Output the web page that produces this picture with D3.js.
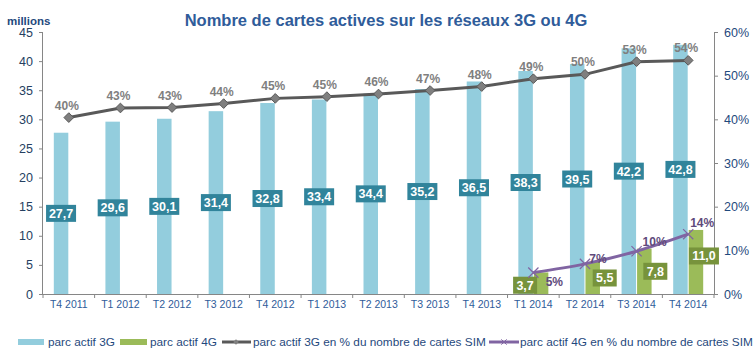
<!DOCTYPE html>
<html><head><meta charset="utf-8">
<script src="https://cdn.jsdelivr.net/npm/d3@7"></script>
<style>body{margin:0;background:#fff}svg{display:block;font-family:"Liberation Sans",Arial,sans-serif}</style>
</head><body><svg id="c" width="756" height="359"></svg>
<script>
const categories = ["T4 2011","T1 2012","T2 2012","T3 2012","T4 2012","T1 2013","T2 2013","T3 2013","T4 2013","T1 2014","T2 2014","T3 2014","T4 2014"];
const parc3G = [27.7,29.6,30.1,31.4,32.8,33.4,34.4,35.2,36.5,38.3,39.5,42.2,42.8];
const parc4G = [null,null,null,null,null,null,null,null,null,3.7,5.5,7.8,11.0];
const pct3G = [40.4,42.6,42.7,43.6,44.8,45.2,45.8,46.6,47.5,49.3,50.3,53.2,53.5];
const pct4G = [null,null,null,null,null,null,null,null,null,4.9,6.9,9.8,13.7];
const leftTicks = [0,5,10,15,20,25,30,35,40,45];
const rightTicks = [0,10,20,30,40,50,60];

const svg = d3.select("#c");
const m = {l:43, r:714, t:32, b:294};
const x = d3.scaleBand().domain(categories).range([m.l, m.r]);
const yL = d3.scaleLinear().domain([0,45]).range([m.b, m.t]);
const yR = d3.scaleLinear().domain([0,60]).range([m.b, m.t]);
const bw = 14.5;
const fmt = v => v.toFixed(1).replace(".", ",");
const axisCol = "#868686", txtCol = "#1F497D";

// title
svg.append("text").attr("x",386).attr("y",26).attr("text-anchor","middle")
  .attr("font-size",16.5).attr("font-weight","bold").attr("fill","#2F5C9A")
  .text("Nombre de cartes actives sur les réseaux 3G ou 4G");
svg.append("text").attr("x",7).attr("y",25).attr("font-size",11.5).attr("font-weight","bold")
  .attr("fill",txtCol).text("millions");

// axes
const gl = svg.append("g").attr("transform",`translate(${m.l},0)`)
  .call(d3.axisLeft(yL).tickValues(leftTicks).tickSize(4).tickPadding(6));
const gr = svg.append("g").attr("transform",`translate(${m.r},0)`)
  .call(d3.axisRight(yR).tickValues(rightTicks).tickSize(4).tickPadding(6).tickFormat(d=>d+"%"));
const gx = svg.append("g").attr("transform",`translate(0,${m.b})`)
  .call(d3.axisBottom(x).tickSize(0).tickPadding(7));
[gl,gr,gx].forEach(g=>{
  g.selectAll("path").attr("stroke",axisCol);
  g.selectAll("line").attr("stroke",axisCol);
  g.selectAll("text").attr("fill",txtCol).attr("font-family","Liberation Sans, Arial, sans-serif");
});
gl.selectAll("text").attr("font-size",12.5).attr("fill","#254061");
gr.selectAll("text").attr("font-size",12.5);
gx.selectAll("text").attr("font-size",10.5).attr("fill","#2F5C9A");
gl.select("path").attr("d",`M-0.5,${m.t}V${m.b}`);
gr.select("path").attr("d",`M0.5,${m.t}V${m.b}`);
gx.select("path").attr("d",`M${m.l},0.5H${m.r}`);
// category boundary ticks
svg.append("g").selectAll("line").data(categories.concat(["end"])).join("line")
  .attr("x1",(d,i)=>m.l+i*x.bandwidth()).attr("x2",(d,i)=>m.l+i*x.bandwidth())
  .attr("y1",m.b).attr("y2",m.b+4).attr("stroke",axisCol);

// bars
const cx = c => x(c)+x.bandwidth()/2;
svg.append("g").selectAll("rect").data(parc3G).join("rect")
  .attr("x",(d,i)=>cx(categories[i])-bw-0.5).attr("width",bw)
  .attr("y",d=>yL(d)).attr("height",d=>yL(0)-yL(d)).attr("fill","#93CDDD");
const d4 = parc4G.map((v,i)=>({v,i})).filter(d=>d.v!=null);
svg.append("g").selectAll("rect").data(d4).join("rect")
  .attr("x",d=>cx(categories[d.i])+0.5).attr("width",bw)
  .attr("y",d=>yL(d.v)).attr("height",d=>yL(0)-yL(d.v)).attr("fill","#9BBB59");

// 3G value labels
const lab3 = svg.append("g").selectAll("g").data(parc3G).join("g")
  .attr("transform",(d,i)=>`translate(${cx(categories[i])-bw/2-0.5},${yL(d/2)})`);
lab3.append("rect").attr("x",-15).attr("y",-8.5).attr("width",30).attr("height",17).attr("fill","#31849B");
lab3.append("text").attr("text-anchor","middle").attr("dy",4.5).attr("font-size",12.5)
  .attr("font-weight","bold").attr("fill","#fff").text(d=>fmt(d));

// 4G value labels (Excel-placed offsets)
const off4 = [[-16,2],[12,0],[11,0],[8,-6]];
const lab4 = svg.append("g").selectAll("g").data(d4).join("g")
  .attr("transform",(d,k)=>`translate(${cx(categories[d.i])+bw/2+0.5+off4[k][0]},${yL(d.v/2)+off4[k][1]})`);
lab4.append("rect").attr("x",d=>d.v>=10?-15:-12).attr("y",-8.5).attr("width",d=>d.v>=10?30:24).attr("height",17).attr("fill","#77933C");
lab4.append("text").attr("text-anchor","middle").attr("dy",4.5).attr("font-size",12.5)
  .attr("font-weight","bold").attr("fill","#fff").text(d=>fmt(d.v));

// 3G % line
const p3 = pct3G.map((v,i)=>[cx(categories[i]), yR(v)]);
svg.append("path").attr("d",d3.line()(p3)).attr("fill","none").attr("stroke","#595959").attr("stroke-width",3);
svg.append("g").selectAll("path").data(p3).join("path")
  .attr("d",d3.symbol(d3.symbolDiamond2,60)())
  .attr("transform",d=>`translate(${d[0]},${d[1]})`)
  .attr("fill","#7F7F7F").attr("stroke","#595959").attr("stroke-width",1);
svg.append("g").selectAll("text").data(pct3G).join("text")
  .attr("x",(d,i)=>cx(categories[i])-2).attr("y",d=>yR(d)-8)
  .attr("text-anchor","middle").attr("font-size",12).attr("font-weight","bold").attr("fill","#7F7F7F")
  .text(d=>Math.round(d)+"%");

// 4G % line
const p4 = pct4G.map((v,i)=>({v,i})).filter(d=>d.v!=null).map(d=>[cx(categories[d.i]), yR(d.v), d.v]);
svg.append("path").attr("d",d3.line().curve(d3.curveMonotoneX)(p4.map(d=>[d[0],d[1]])))
  .attr("fill","none").attr("stroke","#8064A2").attr("stroke-width",3);
svg.append("g").selectAll("path").data(p4).join("path")
  .attr("d",d3.symbol(d3.symbolX,70)())
  .attr("transform",d=>`translate(${d[0]},${d[1]})`)
  .attr("fill","none").attr("stroke","#8064A2").attr("stroke-width",1.2);
const off4p = [[21,9],[13,-5],[18,-9],[14,-11]];
svg.append("g").selectAll("text").data(p4).join("text")
  .attr("x",(d,k)=>d[0]+off4p[k][0]).attr("y",(d,k)=>d[1]+off4p[k][1]+4)
  .attr("text-anchor","middle").attr("font-size",12).attr("font-weight","bold").attr("fill","#604A7B")
  .text(d=>Math.round(d[2])+"%");

// legend
const lg = svg.append("g").attr("font-size",11.8).attr("fill",txtCol);
const ly = 342;
lg.append("rect").attr("x",18).attr("y",ly-3).attr("width",26).attr("height",6).attr("fill","#93CDDD");
lg.append("text").attr("x",48).attr("y",ly+4).text("parc actif 3G");
lg.append("rect").attr("x",120).attr("y",ly-3).attr("width",27).attr("height",6).attr("fill","#9BBB59");
lg.append("text").attr("x",150).attr("y",ly+4).text("parc actif 4G");
lg.append("line").attr("x1",222).attr("x2",251).attr("y1",ly).attr("y2",ly).attr("stroke","#595959").attr("stroke-width",3);
lg.append("path").attr("d",d3.symbol(d3.symbolDiamond2,20)()).attr("transform",`translate(236,${ly})`).attr("fill","#7F7F7F");
lg.append("text").attr("x",253).attr("y",ly+4).text("parc actif 3G en % du nombre de cartes SIM");
lg.append("line").attr("x1",489).attr("x2",519).attr("y1",ly).attr("y2",ly).attr("stroke","#8064A2").attr("stroke-width",3);
lg.append("path").attr("d",d3.symbol(d3.symbolX,20)()).attr("transform",`translate(504,${ly})`).attr("fill","none").attr("stroke","#8064A2");
lg.append("text").attr("x",520).attr("y",ly+4).text("parc actif 4G en % du nombre de cartes SIM");
</script></body></html>
